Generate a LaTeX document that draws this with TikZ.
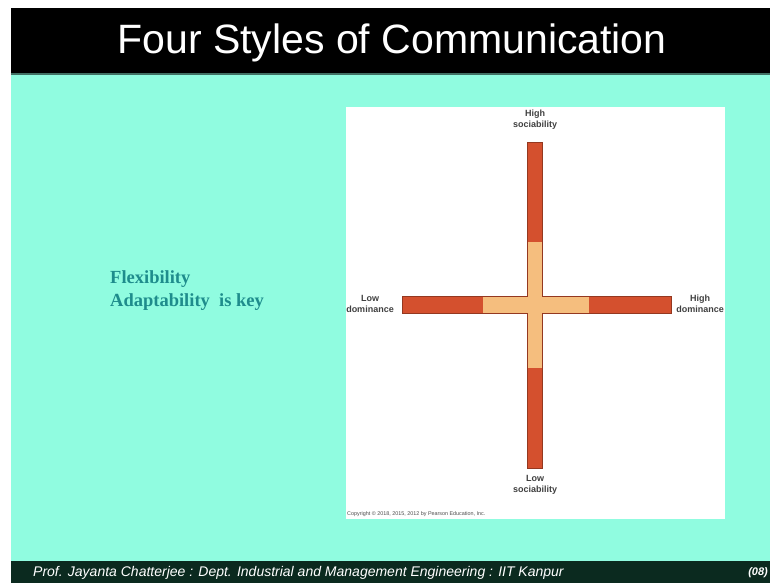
\documentclass[tikz,border=0pt]{standalone}
\usepackage{fontspec}
\setmainfont{Liberation Sans}
\newfontfamily\serifkey{Liberation Serif}
\usepackage{xcolor}
\usetikzlibrary{positioning}
\definecolor{slidecyan}{HTML}{90FCE0}
\definecolor{footgreen}{HTML}{0B2A1F}
\definecolor{barred}{HTML}{D4502E}
\definecolor{barlight}{HTML}{F5BE7E}
\definecolor{keyteal}{HTML}{1E8C8C}
\tikzstyle{redbar} = [fill=barred, draw=barred!70!black, line width=0.4pt]
\tikzstyle{lightbar} = [fill=barlight, draw=none]
\tikzstyle{axislabel} = [font=\bfseries\fontsize{9}{11}\selectfont, text=black!75, align=center, inner sep=0pt]
\tikzstyle{every node}=[font=\normalsize]

\begin{document}
\begin{tikzpicture}[x=1pt,y=-1pt]
		\useasboundingbox (0,0) rectangle (770,583);
		\fill[white] (0,0) rectangle (770,583);
		\fill[slidecyan] (11,75) rectangle (770,561);
		\fill[black] (11,8) rectangle (770,73);
		\fill[black!55!slidecyan] (11,73) rectangle (770,75);
		\fill[footgreen] (11,561) rectangle (770,583);
		\node (title) [text=white, font=\fontsize{41}{46}\selectfont] at (392,43) {Four Styles of Communication};
		\node (footer) [anchor=west, text=white, font=\itshape\fontsize{14}{16}\selectfont, inner sep=0pt] at (33,573) {Prof. Jayanta Chatterjee : Dept. Industrial and Management Engineering : IIT Kanpur};
		\node (page) [anchor=east, text=white, font=\itshape\bfseries\fontsize{11}{13}\selectfont, inner sep=0pt] at (768,573) {(08)};
		\node (key) [anchor=north west, text=keyteal, font=\serifkey\bfseries\fontsize{18.5}{23}\selectfont, align=left, inner sep=0pt] at (110,270) {Flexibility\\Adaptability\ \ is key};
		% figure panel
		\fill[white] (346,107) rectangle (725,519);
		\draw[redbar] (527,142) rectangle (542,468);
		\draw[redbar] (402,296) rectangle (671,313);
		\fill[lightbar] (527.5,242) rectangle (541.5,368);
		\fill[lightbar] (483,296.5) rectangle (589,312.5);
		\node (hisoc) [axislabel] at (535,120) {High\\sociability};
		\node (losoc) [axislabel] at (535,485) {Low\\sociability};
		\node (lodom) [axislabel] at (370,304) {Low\\dominance};
		\node (hidom) [axislabel] at (700,304) {High\\dominance};
		\node (copy) [anchor=west, font=\fontsize{5.4}{6}\selectfont, text=black!70, inner sep=0pt] at (347,514) {Copyright \textcopyright\ 2018, 2015, 2012 by Pearson Education, Inc.};
	\end{tikzpicture}
\end{document}
